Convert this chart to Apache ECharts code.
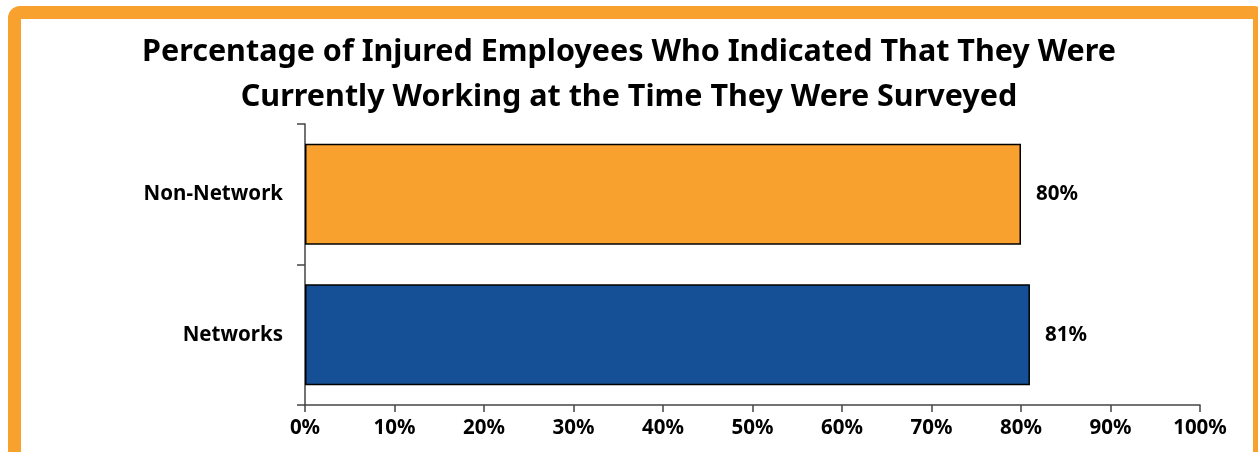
<!DOCTYPE html>
<html>
<head>
<meta charset="utf-8">
<script src="https://cdn.jsdelivr.net/npm/echarts@6/dist/echarts.min.js"></script>
<style>
html,body{margin:0;padding:0;width:1258px;height:452px;overflow:hidden;background:#fff;}
#frame{position:absolute;left:8px;top:6px;width:1258px;height:460px;box-sizing:border-box;border:13px solid #F9A12E;border-radius:12px;pointer-events:none;z-index:2;}
#chart{position:absolute;left:0;top:0;width:1258px;height:452px;}
</style>
</head>
<body>
<div id="chart"></div>
<div id="frame"></div>
<script>
const titleLines = ['Percentage of Injured Employees Who Indicated That They Were', 'Currently Working at the Time They Were Surveyed'];
const categories = ['Networks', 'Non-Network'];
const values = [81, 80];
const barColors = ['#154F96', '#F9A12E'];

const FONT = '"Noto Sans", "Open Sans", sans-serif';
const chart = echarts.init(document.getElementById('chart'));
chart.setOption({
  backgroundColor: '#fff',
  animation: false,
  title: {
    text: titleLines.join('\n'),
    left: 'center',
    top: 25,
    textStyle: { fontFamily: FONT, fontWeight: 'bold', fontSize: 30.5, lineHeight: 45, color: '#000' }
  },
  grid: { left: 305, right: 58, top: 124, bottom: 47 },
  xAxis: {
    type: 'value', min: 0, max: 100, interval: 10,
    axisLine: { show: true, lineStyle: { color: '#444', width: 1.5 } },
    axisTick: { show: true, length: 7, lineStyle: { color: '#444', width: 1.5 } },
    splitLine: { show: false },
    axisLabel: { formatter: '{value}%', margin: 13, fontFamily: FONT, fontWeight: 'bold', fontSize: 20.5, color: '#000' }
  },
  yAxis: {
    type: 'category', data: categories,
    axisLine: { show: true, lineStyle: { color: '#444', width: 1.5 } },
    axisTick: { show: true, length: 8, lineStyle: { color: '#444', width: 1.5 } },
    axisLabel: { margin: 22, fontFamily: FONT, fontWeight: 'bold', fontSize: 20.5, color: '#000' }
  },
  series: [{
    type: 'bar',
    data: values.map((v, i) => ({ value: v, itemStyle: { color: barColors[i] } })),
    barCategoryGap: '28%',
    itemStyle: { borderColor: '#000', borderWidth: 1.5 },
    label: { show: true, position: 'right', distance: 15, formatter: '{c}%', fontFamily: FONT, fontWeight: 'bold', fontSize: 20.5, color: '#000' }
  }]
});
</script>
</body>
</html>
